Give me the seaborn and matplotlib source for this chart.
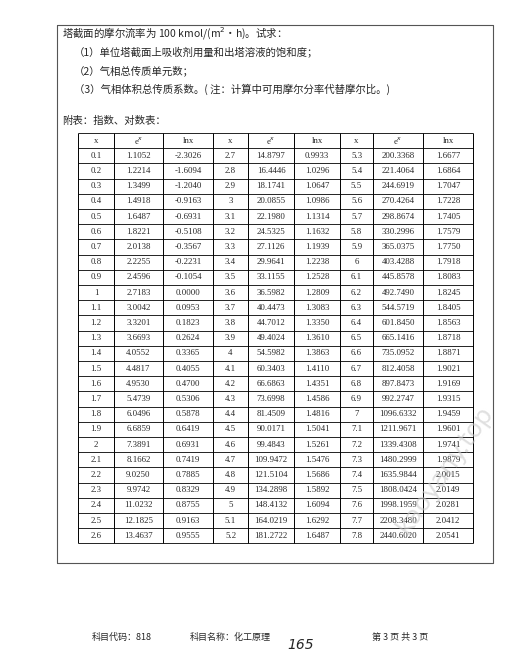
import matplotlib.pyplot as plt
import seaborn as sns

sns.set_theme(style="white")
plt.rcParams['font.family'] = ['Noto Sans CJK SC', 'DejaVu Sans']

x1 = ["0.1", "0.2", "0.3", "0.4", "0.5", "0.6", "0.7", "0.8", "0.9", "1", "1.1", "1.2", "1.3",
      "1.4", "1.5", "1.6", "1.7", "1.8", "1.9", "2", "2.1", "2.2", "2.3", "2.4", "2.5", "2.6"]
ex1 = ["1.1052", "1.2214", "1.3499", "1.4918", "1.6487", "1.8221", "2.0138", "2.2255", "2.4596",
       "2.7183", "3.0042", "3.3201", "3.6693", "4.0552", "4.4817", "4.9530", "5.4739", "6.0496",
       "6.6859", "7.3891", "8.1662", "9.0250", "9.9742", "11.0232", "12.1825", "13.4637"]
ln1 = ["-2.3026", "-1.6094", "-1.2040", "-0.9163", "-0.6931", "-0.5108", "-0.3567", "-0.2231",
       "-0.1054", "0.0000", "0.0953", "0.1823", "0.2624", "0.3365", "0.4055", "0.4700", "0.5306",
       "0.5878", "0.6419", "0.6931", "0.7419", "0.7885", "0.8329", "0.8755", "0.9163", "0.9555"]
x2 = ["2.7", "2.8", "2.9", "3", "3.1", "3.2", "3.3", "3.4", "3.5", "3.6", "3.7", "3.8", "3.9",
      "4", "4.1", "4.2", "4.3", "4.4", "4.5", "4.6", "4.7", "4.8", "4.9", "5", "5.1", "5.2"]
ex2 = ["14.8797", "16.4446", "18.1741", "20.0855", "22.1980", "24.5325", "27.1126", "29.9641",
       "33.1155", "36.5982", "40.4473", "44.7012", "49.4024", "54.5982", "60.3403", "66.6863",
       "73.6998", "81.4509", "90.0171", "99.4843", "109.9472", "121.5104", "134.2898",
       "148.4132", "164.0219", "181.2722"]
ln2 = ["0.9933", "1.0296", "1.0647", "1.0986", "1.1314", "1.1632", "1.1939", "1.2238", "1.2528",
       "1.2809", "1.3083", "1.3350", "1.3610", "1.3863", "1.4110", "1.4351", "1.4586", "1.4816",
       "1.5041", "1.5261", "1.5476", "1.5686", "1.5892", "1.6094", "1.6292", "1.6487"]
x3 = ["5.3", "5.4", "5.5", "5.6", "5.7", "5.8", "5.9", "6", "6.1", "6.2", "6.3", "6.4", "6.5",
      "6.6", "6.7", "6.8", "6.9", "7", "7.1", "7.2", "7.3", "7.4", "7.5", "7.6", "7.7", "7.8"]
ex3 = ["200.3368", "221.4064", "244.6919", "270.4264", "298.8674", "330.2996", "365.0375",
       "403.4288", "445.8578", "492.7490", "544.5719", "601.8450", "665.1416", "735.0952",
       "812.4058", "897.8473", "992.2747", "1096.6332", "1211.9671", "1339.4308", "1480.2999",
       "1635.9844", "1808.0424", "1998.1959", "2208.3480", "2440.6020"]
ln3 = ["1.6677", "1.6864", "1.7047", "1.7228", "1.7405", "1.7579", "1.7750", "1.7918", "1.8083",
       "1.8245", "1.8405", "1.8563", "1.8718", "1.8871", "1.9021", "1.9169", "1.9315", "1.9459",
       "1.9601", "1.9741", "1.9879", "2.0015", "2.0149", "2.0281", "2.0412", "2.0541"]
headers = ["x", "e$^x$", "lnx"] * 3

question_lines = [
    "塔截面的摩尔流率为 100 kmol/(m$^2$·h)。试求：",
    "（1）单位塔截面上吸收剂用量和出塔溶液的饱和度；",
    "（2）气相总传质单元数；",
    "（3）气相体积总传质系数。( 注：计算中可用摩尔分率代替摩尔比。)",
]

fig = plt.figure(figsize=(5.30, 6.69), dpi=100)
ax = fig.add_axes([0, 0, 1, 1])
ax.set_xlim(0, 530)
ax.set_ylim(669, 0)
ax.axis("off")

# outer frame
ax.plot([57, 493, 493, 57, 57], [25, 25, 563, 563, 25], color="#555555", lw=0.8)

ax.text(62, 33, question_lines[0], fontsize=7.5, va="center")
for i, line in enumerate(question_lines[1:]):
    ax.text(74, 52 + i * 18.5, line, fontsize=7.5, va="center")
ax.text(62, 121, "附表：指数、对数表：", fontsize=7.5, va="center")

cols = [78, 114, 163, 213, 248, 294, 340, 373, 423, 473]
top, row_h = 133, 15.2
n_rows = len(x1) + 1
bottom = top + n_rows * row_h
ax.vlines(cols, top, bottom, color="black", lw=0.7)
for r in range(n_rows + 1):
    ax.hlines(top + r * row_h, cols[0], cols[-1], color="black", lw=0.6)

columns = [x1, ex1, ln1, x2, ex2, ln2, x3, ex3, ln3]
num_font = dict(family=["Liberation Serif", "DejaVu Serif"], fontsize=6.3, ha="center", va="center")
for c, h in enumerate(headers):
    cx = (cols[c] + cols[c + 1]) / 2
    ax.text(cx, top + row_h / 2, h, **num_font)
    for r, v in enumerate(columns[c]):
        ax.text(cx, top + (r + 1.5) * row_h, v, **num_font)

# watermark
ax.text(445, 470, "kaoyany.top", fontsize=18, color="#cccccc", rotation=55,
        ha="center", va="center", family="DejaVu Sans", alpha=0.6)

ax.text(92, 637, "科目代码：818", fontsize=6.5, va="center")
ax.text(190, 637, "科目名称：化工原理", fontsize=6.5, va="center")
ax.text(287, 645, "165", fontsize=10, va="center", style="italic", family="DejaVu Sans")
ax.text(372, 637, "第 3 页 共 3 页", fontsize=6.5, va="center")

fig.savefig("out.png", dpi=100, facecolor="white")
